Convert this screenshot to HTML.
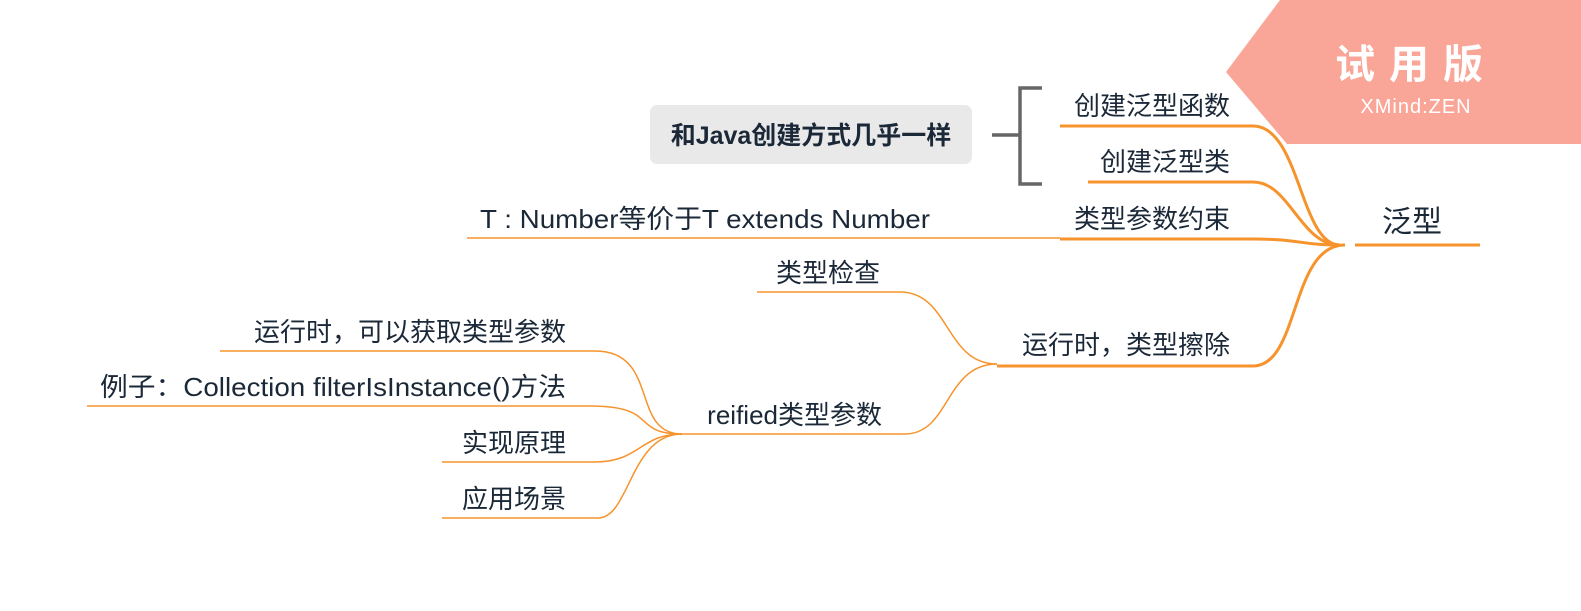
<!DOCTYPE html>
<html><head><meta charset="utf-8"><style>
html,body{margin:0;padding:0;background:#fff;width:1581px;height:611px;overflow:hidden}
text{font-family:"Liberation Sans","Noto Sans CJK SC",sans-serif;fill:#1b2838}
</style></head><body>
<svg width="1581" height="611" viewBox="0 0 1581 611" xmlns="http://www.w3.org/2000/svg">
<polygon points="1280,0 1581,0 1581,144 1287,144 1226,72" fill="#f9a597"/>
<text x="1416" y="78" text-anchor="middle" font-size="40" font-weight="bold" style="fill:#fff" letter-spacing="14">试用版</text>
<text x="1416" y="113" text-anchor="middle" font-size="20" style="fill:#fff" letter-spacing="1">XMind:ZEN</text>

<g fill="none" stroke="#f7932c" stroke-width="3">
<line x1="1355" y1="245" x2="1480" y2="245"/>
<path d="M1060,126 H1253 C1300,126 1300,245 1340,245"/>
<path d="M1088,182 H1253 C1290,182 1300,245 1340,245"/>
<path d="M1060,239 H1253 C1300,239 1300,245 1340,245"/>
<path d="M997,366 H1253 C1300,366 1290,245 1345,245"/>
</g>
<g fill="none" stroke="#f7932c" stroke-width="1.5">
<line x1="467" y1="238" x2="1060" y2="238"/>
<path d="M757,292 H900 C950,292 945,364 997,364"/>
<path d="M680,434 H905 C950,434 945,364 997,364"/>
<path d="M220,351 H595 C660,351 630,434 682,434"/>
<path d="M87,406 H590 C660,406 630,434 682,434"/>
<path d="M442,462 H595 C640,462 640,434 682,434"/>
<path d="M442,518 H598 C630,518 630,434 682,434"/>
</g>
<path d="M1042,88 H1020 V184 H1042 M1020,135 H992" fill="none" stroke="#666" stroke-width="3.5"/>
<rect x="650" y="105" width="322" height="59" rx="7" fill="#e9e9e9"/>
<text x="811" y="144" text-anchor="middle" font-size="25" font-weight="bold">和Java创建方式几乎一样</text>

<g font-size="26">
<text x="1412" y="232" text-anchor="middle" font-size="30">泛型</text>
<text x="1230" y="115" text-anchor="end">创建泛型函数</text>
<text x="1230" y="171" text-anchor="end">创建泛型类</text>
<text x="1230" y="228" text-anchor="end">类型参数约束</text>
<text x="1230" y="354" text-anchor="end">运行时，类型擦除</text>
<text x="930" y="228" text-anchor="end" textLength="450" lengthAdjust="spacingAndGlyphs">T : Number等价于T extends Number</text>
<text x="880" y="282" text-anchor="end">类型检查</text>
<text x="882" y="424" text-anchor="end">reified类型参数</text>
<text x="566" y="341" text-anchor="end">运行时，可以获取类型参数</text>
<text x="566" y="396" text-anchor="end" textLength="466" lengthAdjust="spacingAndGlyphs">例子：Collection filterIsInstance()方法</text>
<text x="566" y="452" text-anchor="end">实现原理</text>
<text x="566" y="508" text-anchor="end">应用场景</text>
</g>
</svg>
</body></html>
